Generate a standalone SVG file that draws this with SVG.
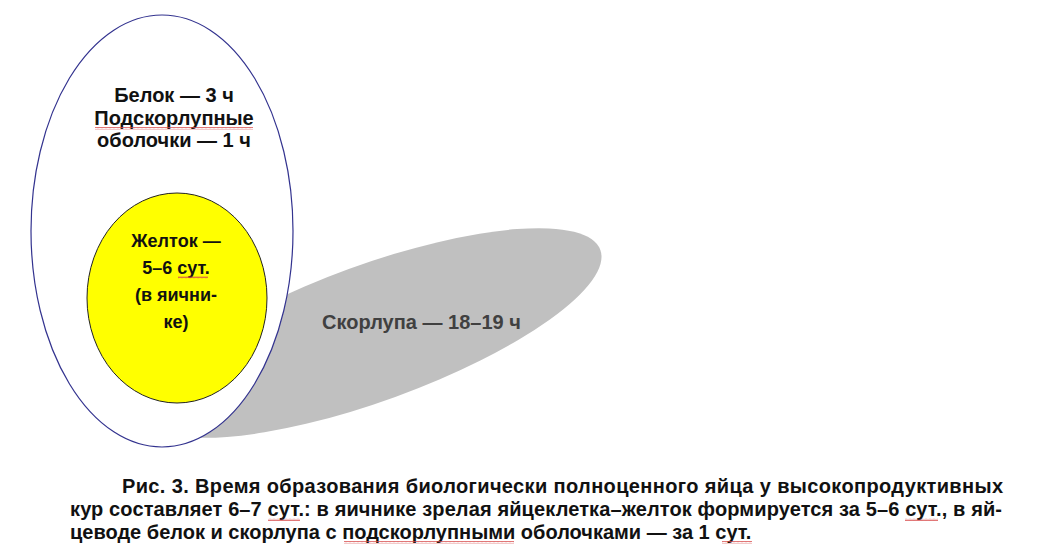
<svg xmlns="http://www.w3.org/2000/svg" width="1043" height="549" viewBox="0 0 1043 549">
<style>
.t{font-family:"Liberation Sans",Arial,sans-serif;font-weight:bold;font-size:20px;fill:#111;text-anchor:middle}
.y{font-size:18px}
.s{fill:#404040;text-anchor:start}
.c{font-family:"Liberation Sans",Arial,sans-serif;font-weight:bold;font-size:20px;fill:#111}
.sq{fill:url(#sq)}
</style>
<defs>
<pattern id="sq" width="4" height="3" patternUnits="userSpaceOnUse">
<path d="M0 2.2 L1 0.6 L2 2.2 L3 0.6 L4 2.2" stroke="#d84a4a" fill="none" stroke-width="0.8"/>
</pattern>
</defs>
<rect width="1043" height="549" fill="#fff"/>
<g id="shell">
<ellipse cx="372" cy="333" rx="243" ry="68" transform="rotate(-20 372 333)" fill="#c0c0c0"/>
<text class="t s" x="322" y="329">Скорлупа — 18–19 ч</text>
</g>
<g id="egg">
<ellipse cx="162" cy="231" rx="131" ry="216" fill="#fff" stroke="#33338f" stroke-width="1.2"/>
<text class="t" x="174" y="102">Белок — 3 ч</text>
<text class="t" x="174" y="125">Подскорлупные</text>
<text class="t" x="174" y="147">оболочки — 1 ч</text>
<rect class="sq" x="95" y="127" width="158" height="3"/>
</g>
<g id="yolk">
<ellipse cx="177" cy="298" rx="90" ry="105" fill="#ffff00" stroke="#222" stroke-width="1"/>
<text class="t y" x="176" y="247">Желток —</text>
<text class="t y" x="176" y="274">5–6 сут.</text>
<text class="t y" x="176" y="301">(в яични-</text>
<text class="t y" x="176" y="328">ке)</text>
<rect class="sq" x="178" y="276" width="30" height="3"/>
</g>
<g id="caption">
<text class="c" x="122" y="493" textLength="881" lengthAdjust="spacing">Рис. 3. Время образования биологически полноценного яйца у высокопродуктивных</text>
<text class="c" x="70" y="516" textLength="932" lengthAdjust="spacing">кур составляет 6–7 сут.: в яичнике зрелая яйцеклетка–желток формируется за 5–6 сут., в яй-</text>
<text class="c" x="70" y="539">цеводе белок и скорлупа с подскорлупными оболочками — за 1 сут.</text>
<rect class="sq" x="268" y="518" width="32" height="3"/>
<rect class="sq" x="905" y="518" width="33" height="3"/>
<rect class="sq" x="344" y="541" width="170" height="3"/>
<rect class="sq" x="722" y="541" width="30" height="3"/>
</g>
</svg>
